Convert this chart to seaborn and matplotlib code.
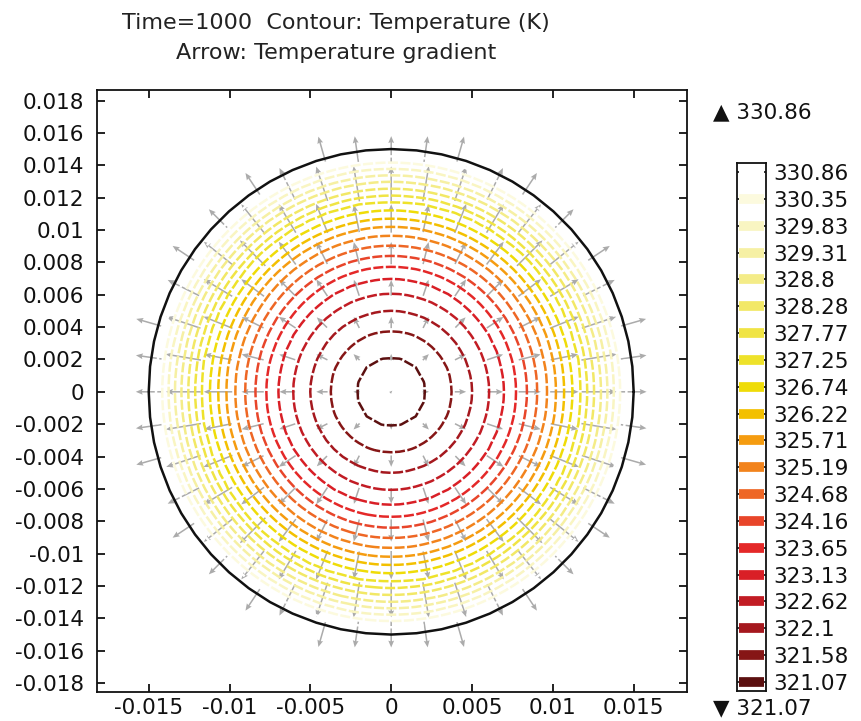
"""Temperature contours with gradient arrows on a disc (COMSOL-style figure)."""

import matplotlib

matplotlib.use("Agg")
import matplotlib.pyplot as plt
import numpy as np
import seaborn as sns

# contour levels (K), same as the colour legend
LEVELS = [321.07, 321.58, 322.1, 322.62, 323.13, 323.65, 324.16, 324.68, 325.19, 325.71,
          326.22, 326.74, 327.25, 327.77, 328.28, 328.8, 329.31, 329.83, 330.35, 330.86]
# radius (m) where each level's contour sits
LEVEL_RADIUS = [0.00216, 0.00377, 0.00501, 0.00606, 0.00699, 0.00773, 0.00841, 0.00903,
                0.00965, 0.0102, 0.0107, 0.0112, 0.01175, 0.01212, 0.01255, 0.01299,
                0.01336, 0.01379, 0.01416, 0.01453]
T_CENTER = 320.82
T_EDGE = 331.3
DOMAIN_RADIUS = 0.015
T_MIN_LABEL = "321.07"
T_MAX_LABEL = "330.86"

X_TICKS = [-0.015, -0.01, -0.005, 0, 0.005, 0.01, 0.015]
Y_TICKS = [-0.018, -0.016, -0.014, -0.012, -0.01, -0.008, -0.006, -0.004, -0.002, 0,
           0.002, 0.004, 0.006, 0.008, 0.01, 0.012, 0.014, 0.016, 0.018]

# low -> high
LEVEL_COLORS = ["#5c1010", "#861616", "#a5181e", "#c21c24", "#d91f26", "#e42828", "#e8452a",
                "#ee6625", "#f2831c", "#f59c10", "#f3c000", "#efdc08", "#eee22a", "#f0e444",
                "#f2e866", "#f4ec88", "#f6f0a4", "#f9f5c2", "#fcfade", "#ffffff"]

sns.set_style("ticks")
plt.rcParams["font.family"] = ["DejaVu Sans"]
plt.rcParams["axes.unicode_minus"] = False

FS = 15.5
palette = sns.color_palette(LEVEL_COLORS)

# radial temperature profile
prof_r = np.array([0.0] + LEVEL_RADIUS + [DOMAIN_RADIUS])
prof_t = np.array([T_CENTER] + LEVELS + [T_EDGE])
prof_g = np.gradient(prof_t, prof_r)

# field on a coarse grid (gives the faceted look of the mesh)
g = np.linspace(-0.0156, 0.0156, 63)
X, Y = np.meshgrid(g, g)
R = np.hypot(X, Y)
T = np.ma.masked_where(R > DOMAIN_RADIUS, np.interp(R, prof_r, prof_t))

fig = plt.figure(figsize=(8.62, 7.21), dpi=100)
ax = fig.add_axes([97 / 862, 29 / 721, 590 / 862, 602 / 721])

ax.contour(X, Y, T, levels=LEVELS, colors=palette, linewidths=1.8,
           linestyles=[(0, (4, 1))])

# domain boundary
th = np.linspace(0, 2 * np.pi, 61)
ax.plot(DOMAIN_RADIUS * np.cos(th), DOMAIN_RADIUS * np.sin(th), color="#111111", lw=1.8)

# gradient arrows on a 15x15 grid
ag = np.linspace(-DOMAIN_RADIUS, DOMAIN_RADIUS, 15)
AX, AY = np.meshgrid(ag, ag)
AR = np.hypot(AX, AY)
keep = AR <= 0.0158
gmag = np.interp(AR, prof_r, prof_g)
with np.errstate(invalid="ignore", divide="ignore"):
    U = np.where(AR > 0, gmag * AX / AR, 0.0)
    V = np.where(AR > 0, gmag * AY / AR, 0.0)
scale = np.interp(DOMAIN_RADIUS, prof_r, prof_g) / 0.0016
ax.quiver(AX[keep], AY[keep], U[keep], V[keep], pivot="middle", angles="xy",
          scale_units="xy", scale=scale, color="#ababab", width=0.0026,
          headwidth=3.8, headlength=4.5, headaxislength=4)

ax.set_xlim(-0.0182, 0.0183)
ax.set_ylim(-0.01855, 0.01865)
ax.set_xticks(X_TICKS)
ax.set_xticklabels([f"{v:g}" for v in X_TICKS])
ax.set_yticks(Y_TICKS)
ax.set_yticklabels([f"{v:g}" for v in Y_TICKS])
ax.tick_params(axis="both", direction="in", length=6, width=1.3, top=True, right=True,
               labelsize=FS, colors="#111111")
ax.tick_params(axis="x", pad=4)
ax.tick_params(axis="y", pad=9)
for sp in ax.spines.values():
    sp.set_linewidth(1.3)
    sp.set_color("#111111")

fig.text(336 / 862, 1 - 23 / 721, "Time=1000  Contour: Temperature (K)", ha="center",
         va="center", fontsize=16, color="#222222")
fig.text(336 / 862, 1 - 53 / 721, "Arrow: Temperature gradient", ha="center",
         va="center", fontsize=16, color="#222222")

# legend bar
cax = fig.add_axes([737 / 862, 30 / 721, 29 / 862, 528 / 721])
cax.set_xlim(0, 1)
cax.set_ylim(LEVELS[0] - 0.173, LEVELS[-1] + 0.173)
cax.hlines(LEVELS, 0.08, 0.92, colors=palette, linewidth=7)
cax.set_yticks(LEVELS)
cax.set_yticklabels([f"{v:g}" for v in LEVELS])
cax.set_xticks([])
cax.tick_params(axis="y", direction="in", length=4, width=1.2, left=True, right=True,
                labelleft=False, labelright=True, labelsize=FS, pad=5, colors="#111111")
for sp in cax.spines.values():
    sp.set_linewidth(1.3)
    sp.set_color("#111111")

fig.text(713 / 862, 1 - 112 / 721, "\u25b2 " + T_MAX_LABEL, va="center", fontsize=FS,
         color="#111111")
fig.text(713 / 862, 1 - 708 / 721, "\u25bc " + T_MIN_LABEL, va="center", fontsize=FS,
         color="#111111")

fig.savefig("out.png", dpi=100)
plt.close(fig)
